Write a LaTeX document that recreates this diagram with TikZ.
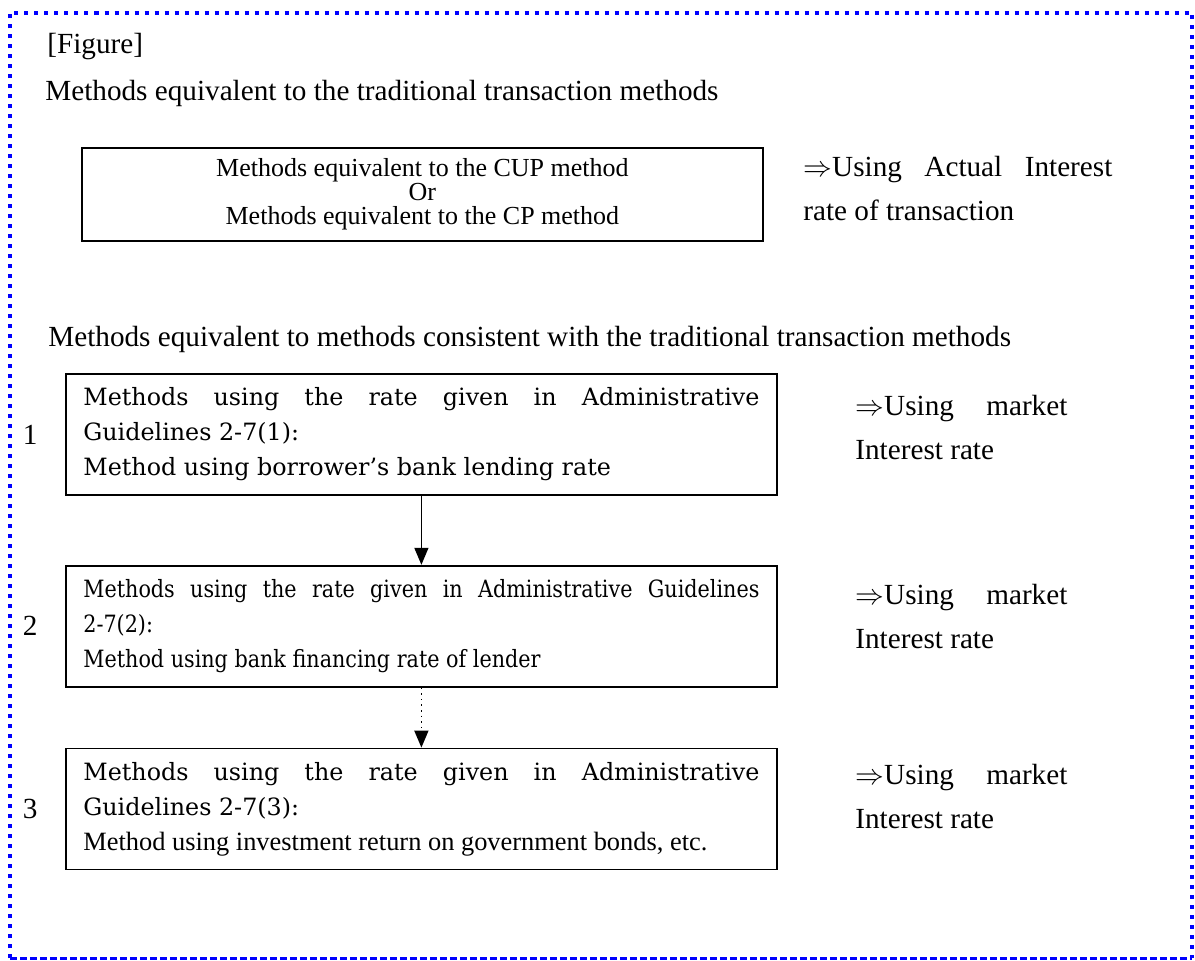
\documentclass[tikz,border=0pt]{standalone}
\usepackage{fontspec}
\setmainfont{Liberation Serif}
\newfontfamily\centuryfont{DejaVu Serif}
\newfontfamily\centurynarrow[FakeStretch=0.87]{DejaVu Serif}
\usepackage{tikz}
\usetikzlibrary{positioning,arrows.meta}

\begin{document}
\begin{tikzpicture}[%
			x=0.5pt,
			y=-0.5pt,
			font=\fontsize{14.6}{22}\selectfont,
			>={Triangle[width=7pt,length=8.5pt]},
			every node/.style={inner sep=0pt},
			headline/.style={anchor=base west},
			rate/.style={anchor=north west, align=justify},
			cupbox/.style={%
				draw,
				line width=0.9pt,
				anchor=north west,
				minimum width=340.5pt,
				minimum height=46.5pt,
				align=center,
				font=\fontsize{13}{12}\selectfont
			},
			methodbox/.style={%
				draw,
				line width=0.9pt,
				inner xsep=8.75pt,
				text width=338pt,
				minimum height=60.5pt,
				align=justify,
				font=\centuryfont\fontsize{11.9}{17.5}\selectfont
			}
			]
			\useasboundingbox (0,0) rectangle (1195,960);
			% frame
			\draw[blue, line width=2pt, dash pattern=on 2pt off 3pt] (10,958) -- (10,12.5) -- (1192,12.5) -- (1192,958);
			\draw[blue, line width=1.5pt, dash pattern=on 3.5pt off 1.5pt] (10,958) -- (1192,958);

			\node[headline] (fig) at (47,53) {[Figure]};
			\node[headline] (trad) at (45,100) {Methods equivalent to the traditional transaction methods};
			\node[cupbox] (cup) at (81,147) {Methods equivalent to the CUP method\\
				Or\\
				Methods equivalent to the CP method};
			\node[rate, text width=154.5pt] (act) at (803,156) {$\Rightarrow$Using Actual Interest\linebreak rate of transaction};

			\node[headline] (cons) at (48,346) {Methods equivalent to methods consistent with the traditional transaction methods};
			\node[methodbox, anchor=north west] (m1) at (65,373) {Methods using the rate given in Administrative\linebreak
				Guidelines 2-7(1):\\
				Method using borrower’s bank lending rate};
			\node[methodbox, below=34.5pt of m1] (m2) {\centurynarrow Methods using the rate given in Administrative Guidelines\linebreak
				2-7(2):\\
				Method using bank financing rate of lender};
			\node[methodbox, below=30pt of m2] (m3) {Methods using the rate given in Administrative\linebreak
				Guidelines 2-7(3):\\
				{\rmfamily\fontsize{13.2}{17.5}\selectfont Method using investment return on government bonds, etc.}};

			\node[left=13.5pt of m1] (n1) {1};
			\node[left=13.5pt of m2] (n2) {2};
			\node[left=13.5pt of m3] (n3) {3};

			\node[rate, text width=106pt] (mk1) at (855,395) {$\Rightarrow$Using market\linebreak Interest rate};
			\node[rate, text width=106pt] (mk2) at (855,584) {$\Rightarrow$Using market\linebreak Interest rate};
			\node[rate, text width=106pt] (mk3) at (855,764) {$\Rightarrow$Using market\linebreak Interest rate};

			\draw[->, line width=0.7pt] (m1) -- (m2);
			\draw[->, line width=0.8pt, dotted] (m2) -- (m3);
\end{tikzpicture}
\end{document}
